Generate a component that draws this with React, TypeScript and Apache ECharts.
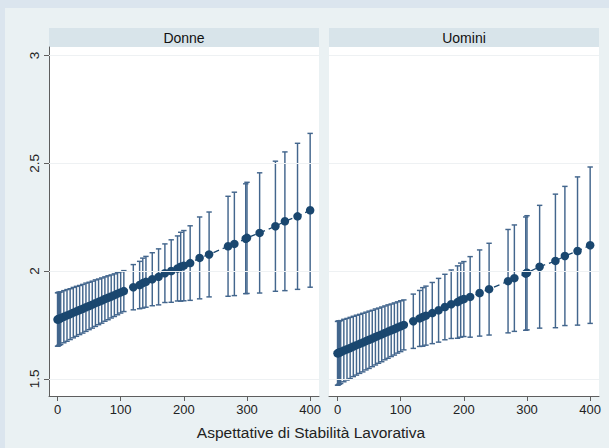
import React, { useEffect, useRef } from "react";
import * as echarts from "echarts";

const xVals = [0, 1, 2, 3, 5, 10, 15, 20, 25, 30, 35, 40, 45, 50, 55, 60, 65, 70, 75, 80, 85, 90, 95, 100, 105,
  120, 130, 135, 140, 150, 160, 170, 180, 190, 195, 200, 210, 225, 240, 270, 280, 298, 300, 320, 345, 360, 380, 400];

const donneMean = [1.775, 1.776, 1.778, 1.779, 1.781, 1.788, 1.794, 1.8, 1.807, 1.813, 1.819, 1.825, 1.832, 1.838, 1.844, 1.851, 1.857, 1.863, 1.87, 1.876, 1.882, 1.888, 1.895, 1.901, 1.907,
  1.925, 1.935, 1.944, 1.95, 1.962, 1.973, 1.99, 2.0, 2.012, 2.02, 2.025, 2.037, 2.061, 2.077, 2.115, 2.126, 2.15, 2.154, 2.177, 2.208, 2.231, 2.254, 2.282];
const donneCI = [0.124, 0.124, 0.123, 0.123, 0.122, 0.121, 0.12, 0.118, 0.117, 0.116, 0.114, 0.113, 0.112, 0.11, 0.109, 0.108, 0.106, 0.105, 0.103, 0.102, 0.1, 0.099, 0.098, 0.096, 0.095,
  0.105, 0.11, 0.116, 0.118, 0.123, 0.13, 0.136, 0.145, 0.151, 0.16, 0.163, 0.173, 0.19, 0.197, 0.232, 0.24, 0.255, 0.258, 0.279, 0.302, 0.322, 0.339, 0.357];

const uominiMean = [1.618, 1.619, 1.621, 1.622, 1.624, 1.631, 1.637, 1.643, 1.65, 1.656, 1.662, 1.668, 1.675, 1.681, 1.687, 1.694, 1.7, 1.706, 1.713, 1.719, 1.725, 1.731, 1.738, 1.744, 1.75,
  1.767, 1.78, 1.787, 1.793, 1.805, 1.818, 1.833, 1.846, 1.856, 1.865, 1.87, 1.88, 1.898, 1.916, 1.953, 1.967, 1.988, 1.992, 2.02, 2.047, 2.07, 2.093, 2.12];
const uominiCI = [0.148, 0.148, 0.147, 0.147, 0.146, 0.145, 0.143, 0.142, 0.14, 0.139, 0.137, 0.136, 0.134, 0.133, 0.131, 0.13, 0.128, 0.127, 0.125, 0.124, 0.122, 0.121, 0.119, 0.118, 0.116,
  0.126, 0.13, 0.136, 0.137, 0.142, 0.148, 0.152, 0.159, 0.168, 0.172, 0.174, 0.187, 0.2, 0.213, 0.24, 0.247, 0.263, 0.265, 0.285, 0.31, 0.323, 0.344, 0.363];

const panelTitles = ["Donne", "Uomini"];
const xTicks = [0, 100, 200, 300, 400];
const yTicks = [1.5, 2, 2.5, 3];
const xTitle = "Aspettative di Stabilità Lavorativa";

const FONT = "'Liberation Sans', Arial, Helvetica, sans-serif";
const NAVY = "#1a476f";
const BAR = "#43668d";

export default function App() {
  const ref = useRef<HTMLDivElement>(null);
  useEffect(() => {
    document.body.style.margin = "0";
    const chart = echarts.init(ref.current!, null, { renderer: "svg" });
    const panels = [
      { mean: donneMean, ci: donneCI },
      { mean: uominiMean, ci: uominiCI },
    ];
    const gridLefts = [49, 329];
    const gridW = 270;
    const grids = gridLefts.map((l) => ({
      left: l, top: 47, width: gridW, height: 349, show: true,
      backgroundColor: "#ffffff", borderWidth: 0, containLabel: false,
    }));
    const xAxes = gridLefts.map((_, i) => ({
      type: "value", gridIndex: i, min: -13.5, max: 414,
      axisLine: { show: true, onZero: false, lineStyle: { color: "#5e5e5e", width: 1 } },
      axisTick: { show: true, customValues: xTicks, length: 5, lineStyle: { color: "#5e5e5e" } },
      axisLabel: { customValues: xTicks, color: "#222", fontSize: 13, fontFamily: FONT, margin: 7 },
      splitLine: { show: false },
    }));
    const yAxes = gridLefts.map((_, i) => ({
      type: "value", gridIndex: i, min: 1.42, max: 3.04,
      axisLine: { show: i === 0, onZero: false, lineStyle: { color: "#5e5e5e", width: 1 } },
      axisTick: { show: i === 0, customValues: yTicks, length: 5, lineStyle: { color: "#5e5e5e" } },
      axisLabel: { show: i === 0, customValues: yTicks, rotate: 90, color: "#222", fontSize: 13.5, fontFamily: FONT, margin: 8 },
      splitLine: { show: false },
    }));
    const series: any[] = [];
    panels.forEach((p, i) => {
      series.push({
        type: "line", xAxisIndex: i, yAxisIndex: i, data: [], z: 1, silent: true,
        markLine: {
          silent: true, symbol: ["none", "none"], label: { show: false },
          lineStyle: { color: "#eef1f3", type: "solid", width: 1 },
          data: yTicks.map((v) => ({ yAxis: v })),
        },
      });
      series.push({
        type: "custom", xAxisIndex: i, yAxisIndex: i, z: 2,
        data: xVals.map((x, k) => [x, p.mean[k] - p.ci[k], p.mean[k] + p.ci[k]]),
        encode: { x: 0, y: [1, 2] },
        renderItem: (params: any, api: any) => {
          const x = api.value(0);
          const lo = api.coord([x, api.value(1)]);
          const hi = api.coord([x, api.value(2)]);
          const c = 2.7;
          const st = { stroke: BAR, lineWidth: 1.45 };
          return {
            type: "group",
            children: [
              { type: "line", shape: { x1: lo[0], y1: lo[1], x2: hi[0], y2: hi[1] }, style: st },
              { type: "line", shape: { x1: lo[0] - c, y1: lo[1], x2: lo[0] + c, y2: lo[1] }, style: st },
              { type: "line", shape: { x1: hi[0] - c, y1: hi[1], x2: hi[0] + c, y2: hi[1] }, style: st },
            ],
          };
        },
      });
      series.push({
        type: "line", xAxisIndex: i, yAxisIndex: i, z: 3,
        data: xVals.map((x, k) => [x, p.mean[k]]),
        symbol: "circle", symbolSize: 8.5,
        itemStyle: { color: NAVY },
        lineStyle: { color: NAVY, width: 1.3, type: [6, 4] },
      });
    });
    const graphic: any[] = [
      { type: "rect", shape: { x: 0, y: 0, width: 609, height: 8 }, style: { fill: "#dbe5ee" } },
      { type: "rect", shape: { x: 0, y: 0, width: 5, height: 448 }, style: { fill: "#dbe5ee" } },
    ];
    gridLefts.forEach((l, i) => {
      graphic.push({ type: "rect", shape: { x: l, y: 28, width: gridW, height: 19 }, style: { fill: "#d8e4ea" } });
      graphic.push({
        type: "text", x: l + gridW / 2, y: 38,
        style: { text: panelTitles[i], fill: "#111", font: `14px ${FONT}`, align: "center", verticalAlign: "middle" },
      });
    });
    graphic.push({
      type: "text", x: 311, y: 432,
      style: { text: xTitle, fill: "#222", font: `15.5px ${FONT}`, align: "center", verticalAlign: "middle" },
    });
    chart.setOption({
      animation: false,
      backgroundColor: "#eaf1f3",
      grid: grids,
      xAxis: xAxes,
      yAxis: yAxes,
      series,
      graphic,
    });
    return () => chart.dispose();
  }, []);
  return <div ref={ref} style={{ width: 609, height: 448 }} />;
}
